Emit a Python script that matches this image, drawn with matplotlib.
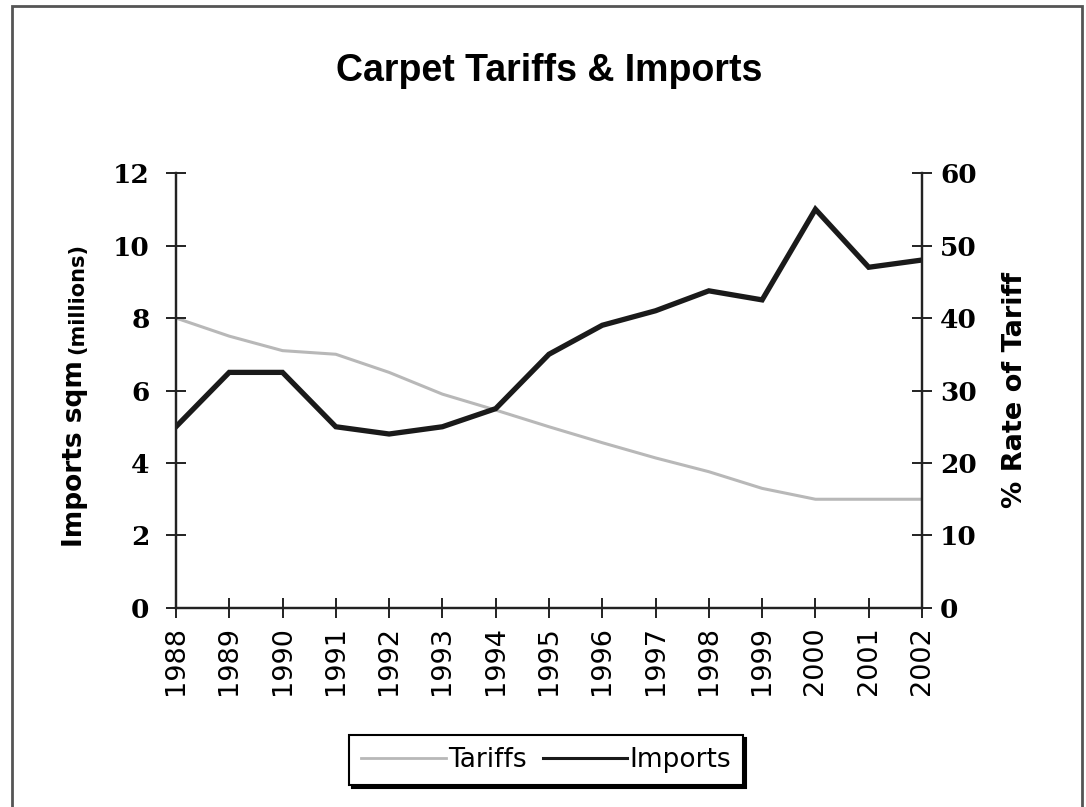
import matplotlib
matplotlib.use("Agg")
import matplotlib.pyplot as plt
from matplotlib.patches import Rectangle
from matplotlib.lines import Line2D

# data
years = [1988, 1989, 1990, 1991, 1992, 1993, 1994, 1995,
         1996, 1997, 1998, 1999, 2000, 2001, 2002]
imports = [5.0, 6.5, 6.5, 5.0, 4.8, 5.0, 5.5, 7.0,
           7.8, 8.2, 8.75, 8.5, 11.0, 9.4, 9.6]
tariffs = [40.0, 37.5, 35.5, 35.0, 32.5, 29.5, 27.3, 25.0,
           22.8, 20.7, 18.8, 16.5, 15.0, 15.0, 15.0]

plt.rcParams['font.family'] = ['DejaVu Sans']

fig = plt.figure(figsize=(10.86, 8.07), dpi=100)
ax = fig.add_axes([0.162, 0.2466, 0.687, 0.539])
ax2 = ax.twinx()

# frame around the whole chart
fig.patches.append(Rectangle((0.011, -0.01), 0.985, 1.003, transform=fig.transFigure,
                             fill=False, edgecolor='#555555', lw=2))

ax2.plot(years, tariffs, color='#b8b8b8', lw=2.2)
ax.plot(years, imports, color='#1a1a1a', lw=3.8, solid_joinstyle='miter')
ax.set_zorder(ax2.get_zorder() + 1)
ax.patch.set_visible(False)

ax.set_xlim(1988, 2002)
ax.set_ylim(0, 12)
ax2.set_ylim(0, 60)
ax.set_xticks(years)
ax.set_xticklabels([str(y) for y in years], rotation=90, fontsize=19.5)
ax.set_yticks(range(0, 13, 2))
ax2.set_yticks(range(0, 61, 10))

for a in (ax, ax2):
    a.spines['top'].set_visible(False)
    for s in a.spines.values():
        s.set_linewidth(1.6)
        s.set_color('#222222')
    a.tick_params(direction='inout', length=14, width=1.4, color='#222222')
ax.tick_params(axis='y', labelsize=19, pad=12)
ax2.tick_params(axis='y', labelsize=19, pad=6)
ax.tick_params(axis='x', pad=6)
for lab in ax.get_yticklabels() + ax2.get_yticklabels():
    lab.set_fontweight('bold')
    lab.set_fontfamily('DejaVu Serif')

fig.text(0.506, 0.912, 'Carpet Tariffs & Imports', ha='center', va='center',
         fontsize=27, fontweight='bold', family='Liberation Sans')

# left label in two sizes
t1 = fig.text(0.069, 1 - 547 / 807, 'Imports sqm', rotation=90, ha='center',
              va='bottom', fontsize=19, fontweight='bold')
fig.canvas.draw()
bb = t1.get_window_extent(fig.canvas.get_renderer())
top = bb.y1 / fig.bbox.height
fig.text(0.071, top + 0.008, '(millions)', rotation=90, ha='center',
         va='bottom', fontsize=15, fontweight='bold')

fig.text(0.935, 1 - 390 / 807, '% Rate of Tariff', rotation=90, ha='center',
         va='center', fontsize=19.5, fontweight='bold')

handles = [Line2D([], [], color='#b8b8b8', lw=2),
           Line2D([], [], color='#1a1a1a', lw=2.2)]
leg = fig.legend(handles, ['Tariffs', 'Imports'], loc='center',
                 bbox_to_anchor=(0.503, 0.058), ncol=2, fontsize=19,
                 frameon=True, fancybox=False, shadow={'color': 'black', 'alpha': 1},
                 edgecolor='black', handlelength=3.2, handletextpad=0.1,
                 columnspacing=0.6, borderpad=0.45)
leg.get_frame().set_linewidth(1.5)

fig.savefig('out.png', dpi=100, facecolor='white')
